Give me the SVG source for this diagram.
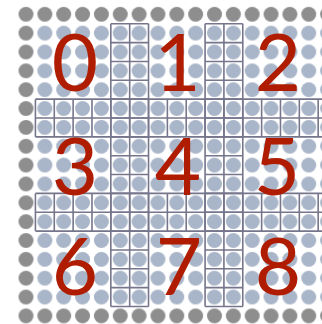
<svg xmlns="http://www.w3.org/2000/svg" width="322" height="324" viewBox="0 0 322 324">
<style>
.grid{fill:none;stroke:#75758c;stroke-width:1.6}
.num{font-family:Lato,"Open Sans","Liberation Sans",sans-serif;font-size:80px;fill:#b01c00;text-anchor:middle}
</style>
<defs>
<pattern id="blue" patternUnits="userSpaceOnUse" x="16.575" y="4.875" width="18.85" height="18.85">
<circle cx="9.425" cy="9.425" r="7.5" fill="#a9b5c8"/>
</pattern>
<pattern id="gray" patternUnits="userSpaceOnUse" x="16.575" y="4.875" width="18.85" height="18.85">
<circle cx="9.425" cy="9.425" r="7.5" fill="#8e8e8e"/>
</pattern>
</defs>
<rect width="322" height="324" fill="#ffffff"/>
<g id="dots">
<rect x="16.575" y="4.875" width="306" height="18.85" fill="url(#gray)"/>
<rect x="16.575" y="306.475" width="306" height="18.85" fill="url(#gray)"/>
<rect x="16.575" y="23.725" width="18.85" height="282.75" fill="url(#gray)"/>
<rect x="35.425" y="23.725" width="287" height="282.75" fill="url(#blue)"/>
</g>
<g id="bands" class="grid">
<path id="hband1" d="M35.425 99.125H322M35.425 117.975H322M35.425 136.825H322
M35.425 99.125V136.825M54.275 99.125V136.825M73.125 99.125V136.825M91.975 99.125V136.825M110.825 99.125V136.825M129.675 99.125V136.825M148.525 99.125V136.825M167.375 99.125V136.825M186.225 99.125V136.825M205.075 99.125V136.825M223.925 99.125V136.825M242.775 99.125V136.825M261.625 99.125V136.825M280.475 99.125V136.825M299.325 99.125V136.825M318.175 99.125V136.825"/>
<path id="hband2" d="M35.425 193.375H322M35.425 212.225H322M35.425 231.075H322
M35.425 193.375V231.075M54.275 193.375V231.075M73.125 193.375V231.075M91.975 193.375V231.075M110.825 193.375V231.075M129.675 193.375V231.075M148.525 193.375V231.075M167.375 193.375V231.075M186.225 193.375V231.075M205.075 193.375V231.075M223.925 193.375V231.075M242.775 193.375V231.075M261.625 193.375V231.075M280.475 193.375V231.075M299.325 193.375V231.075M318.175 193.375V231.075"/>
<path id="vband1" d="M110.825 23.725V306.475M129.675 23.725V306.475M148.525 23.725V306.475
M110.825 23.725H148.525M110.825 42.575H148.525M110.825 61.425H148.525M110.825 80.275H148.525M110.825 99.125H148.525M110.825 117.975H148.525M110.825 136.825H148.525M110.825 155.675H148.525M110.825 174.525H148.525M110.825 193.375H148.525M110.825 212.225H148.525M110.825 231.075H148.525M110.825 249.925H148.525M110.825 268.775H148.525M110.825 287.625H148.525M110.825 306.475H148.525"/>
<path id="vband2" d="M205.075 23.725V306.475M223.925 23.725V306.475M242.775 23.725V306.475
M205.075 23.725H242.775M205.075 42.575H242.775M205.075 61.425H242.775M205.075 80.275H242.775M205.075 99.125H242.775M205.075 117.975H242.775M205.075 136.825H242.775M205.075 155.675H242.775M205.075 174.525H242.775M205.075 193.375H242.775M205.075 212.225H242.775M205.075 231.075H242.775M205.075 249.925H242.775M205.075 268.775H242.775M205.075 287.625H242.775M205.075 306.475H242.775"/>
</g>
<g id="labels" class="num">
<text id="n0" x="75" y="90.5">0</text>
<text id="n1" x="177.5" y="90.5">1</text>
<text id="n2" x="278" y="90.5">2</text>
<text id="n3" x="75" y="195">3</text>
<text id="n4" x="178" y="195">4</text>
<text id="n5" x="277" y="195">5</text>
<text id="n6" x="75" y="294.5">6</text>
<text id="n7" x="179" y="294.5">7</text>
<text id="n8" x="278" y="294.5">8</text>
</g>
</svg>
